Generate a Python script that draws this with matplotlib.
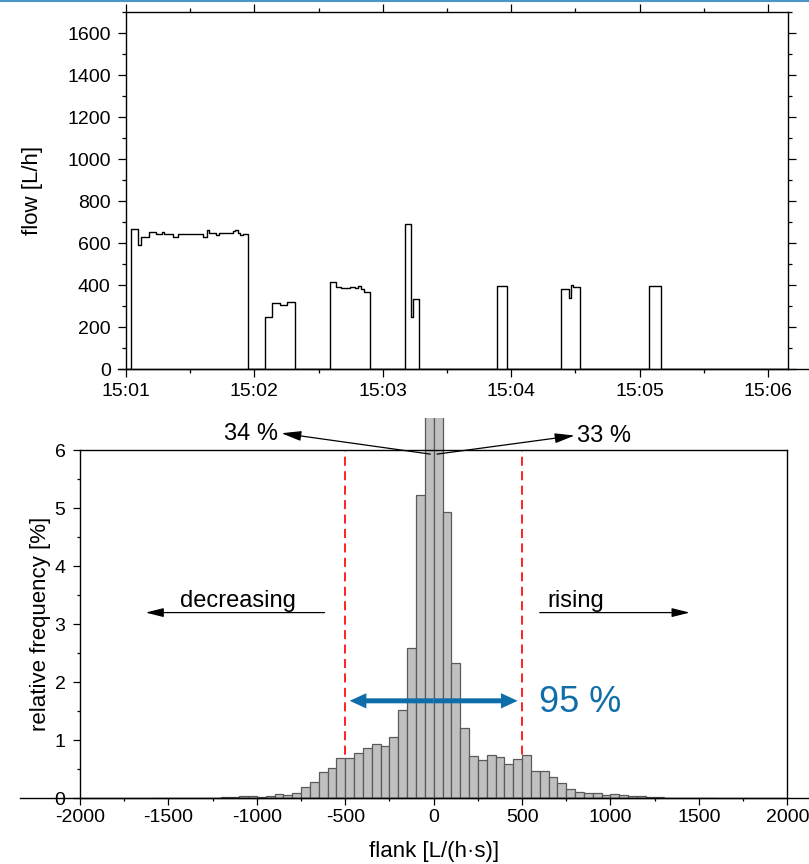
import numpy as np
import matplotlib
matplotlib.use('Agg')
import matplotlib.pyplot as plt
from matplotlib.patches import Rectangle
from matplotlib.lines import Line2D
from matplotlib.ticker import MultipleLocator

plt.rcParams['font.family'] = ['Liberation Sans', 'DejaVu Sans']
plt.rcParams['axes.linewidth'] = 1.0
plt.rcParams['axes.unicode_minus'] = False

# Top panel: flow trace (step changes), time in minutes after 15:01
flow_t = [0.0, 0.037, 0.096, 0.117, 0.182, 0.234, 0.278, 0.299, 0.369, 0.403, 0.602,
          0.628, 0.649, 0.701, 0.722, 0.831, 0.849, 0.870, 0.888, 0.909, 0.953,
          1.085, 1.137, 1.199, 1.251, 1.319,
          1.586, 1.633, 1.672, 1.745, 1.783, 1.809, 1.828, 1.856, 1.900,
          2.170, 2.220, 2.238, 2.285,
          2.887, 2.970,
          3.385, 3.453, 3.468, 3.484, 3.538,
          4.071, 4.169, 5.16]
flow_v = [0, 667, 589, 628, 654, 643, 654, 643, 628, 643, 628,
          660, 648, 637, 648, 657, 664, 648, 637, 643, 0,
          248, 313, 303, 317, 0,
          413, 392, 387, 390, 387, 395, 381, 367, 0,
          690, 248, 333, 0,
          395, 0,
          382, 336, 398, 392, 0,
          395, 0, 0]
time_ticks = [0, 1, 2, 3, 4, 5]
time_labels = ['15:01', '15:02', '15:03', '15:04', '15:05', '15:06']

# Bottom panel: histogram of flanks (bin width 50 L/(h*s)), relative frequency in %
bin_left = list(range(-1600, 1600, 50))
freq = [0.004, 0.004, 0.005, 0.005, 0.006, 0.008, 0.01, 0.01, 0.015, 0.02,
        0.04, 0.04, 0.02, 0.04, 0.07, 0.06, 0.10, 0.20, 0.29, 0.45, 0.53,
        0.69, 0.70, 0.78, 0.86, 0.94, 0.90, 1.05, 1.52, 2.59, 5.23,
        34.0, 33.0,
        4.93, 2.34, 1.22, 0.73, 0.66, 0.74, 0.72, 0.60, 0.68, 0.74, 0.47,
        0.47, 0.36, 0.26, 0.16, 0.11, 0.10, 0.10, 0.06, 0.07, 0.06, 0.04,
        0.035, 0.02, 0.015,
        0.012, 0.01, 0.008, 0.006, 0.005, 0.004]
bin_width = 50
limits_95 = [-500, 500]

fig = plt.figure(figsize=(8.09, 8.64), dpi=100)

# ---- top panel
ax1 = fig.add_axes([0.1557, 0.5729, 0.8183, 0.4132])
ax1.step(flow_t, flow_v, where='post', color='black', lw=1.0)
ax1.set_xlim(0, 5.156)
ax1.set_ylim(0, 1700)
ax1.set_xticks(time_ticks)
ax1.set_xticklabels(time_labels)
ax1.xaxis.set_minor_locator(MultipleLocator(0.5))
ax1.set_yticks(range(0, 1700, 200))
ax1.yaxis.set_minor_locator(MultipleLocator(100))
ax1.tick_params(which='both', direction='out', top=True, right=True,
                labelsize=14, width=0.9)
ax1.tick_params(which='major', length=6)
ax1.tick_params(which='minor', length=3)
ax1.tick_params(axis='x', pad=4)
ax1.tick_params(axis='y', pad=5)
ax1.axhline(0, xmin=-0.012, xmax=1.032, color='black', lw=1.0, clip_on=False)
ax1.set_ylabel('flow [L/h]', fontsize=16)
ax1.yaxis.set_label_coords(-0.125, 0.5)

# ---- bottom panel
ax2 = fig.add_axes([0.0989, 0.0760, 0.8743, 0.4031])
bars = ax2.bar(bin_left, freq, width=bin_width, align='edge', color='#c0c0c0',
               edgecolor='#5a5a5a', linewidth=0.9, zorder=3)
clip_rect = Rectangle((-2000, 0), 4000, 6.55, transform=ax2.transData)
for b in bars:
    b.set_clip_path(clip_rect)
ax2.vlines(limits_95, 0, 6, colors='#ff1010', linestyles=(0, (5, 3)), lw=1.3, zorder=2)
for sp in ax2.spines.values():
    sp.set_zorder(4)
ax2.set_xlim(-2000, 2000)
ax2.set_ylim(0, 6)
ax2.xaxis.set_major_locator(MultipleLocator(500))
ax2.xaxis.set_minor_locator(MultipleLocator(250))
ax2.yaxis.set_major_locator(MultipleLocator(1))
ax2.yaxis.set_minor_locator(MultipleLocator(0.5))
ax2.tick_params(which='both', direction='out', labelsize=14, width=0.9)
ax2.tick_params(which='major', length=5)
ax2.tick_params(which='minor', length=2.5)
ax2.tick_params(axis='x', pad=3)
ax2.tick_params(axis='y', pad=5.5)
ax2.axhline(0, xmin=-0.085, xmax=1.031, color='black', lw=1.0, clip_on=False, zorder=5)
ax2.set_ylabel('relative frequency [%]', fontsize=16)
ax2.yaxis.set_label_coords(-0.041, 0.5)
ax2.set_xlabel('flank [L/(h·s)]', fontsize=16)
ax2.xaxis.set_label_coords(0.5, -0.122)

# arrows to the two central bins
head = '-|>,head_length=0.6,head_width=0.15'
ax2.annotate('', xy=(-861, 6.29), xytext=(-19, 5.93), annotation_clip=False,
             arrowprops=dict(arrowstyle=head, color='black', lw=0.9,
                             mutation_scale=20, shrinkA=0, shrinkB=0), zorder=6)
ax2.annotate('', xy=(797, 6.25), xytext=(19, 5.93), annotation_clip=False,
             arrowprops=dict(arrowstyle=head, color='black', lw=0.9,
                             mutation_scale=20, shrinkA=0, shrinkB=0), zorder=6)
ax2.text(-882, 6.27, '34 %', ha='right', va='center', fontsize=17, clip_on=False)
ax2.text(809, 6.25, '33 %', ha='left', va='center', fontsize=17, clip_on=False)

# decreasing / rising
ax2.annotate('', xy=(-1629, 3.20), xytext=(-617, 3.20),
             arrowprops=dict(arrowstyle=head, color='black', lw=0.9,
                             mutation_scale=18, shrinkA=0, shrinkB=0))
ax2.annotate('', xy=(1448, 3.20), xytext=(600, 3.20),
             arrowprops=dict(arrowstyle=head, color='black', lw=0.9,
                             mutation_scale=18, shrinkA=0, shrinkB=0))
ax2.text(-1109, 3.40, 'decreasing', ha='center', va='center', fontsize=17)
ax2.text(806, 3.40, 'rising', ha='center', va='center', fontsize=17)

# 95 % range
blue = '#0f6eaa'
for tip in limits_95:
    ax2.annotate('', xy=(tip * 0.95, 1.68), xytext=(0, 1.68),
                 arrowprops=dict(arrowstyle='simple,head_length=0.6,head_width=0.55,tail_width=0.18',
                                 color=blue, lw=0, mutation_scale=20,
                                 shrinkA=0, shrinkB=0), zorder=6)
ax2.text(594, 1.65, '95 %', color=blue, ha='left', va='center', fontsize=26)

fig.add_artist(Line2D([0, 1], [0.999, 0.999], transform=fig.transFigure,
                      color='#4b95c9', lw=1.5))

fig.savefig('out.png', dpi=100)
